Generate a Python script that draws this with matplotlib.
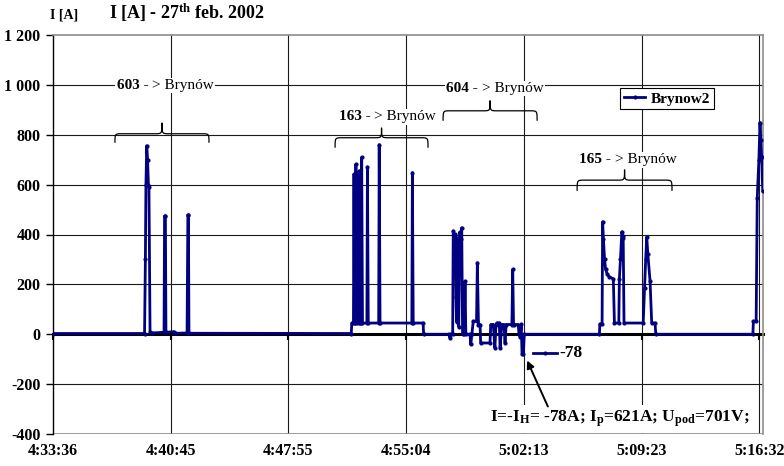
import matplotlib
matplotlib.use('Agg')
import matplotlib.pyplot as plt
from matplotlib.path import Path
from matplotlib.patches import PathPatch
from matplotlib.lines import Line2D

plt.rcParams['font.family'] = ['Liberation Serif', 'DejaVu Serif']
plt.rcParams['mathtext.fontset'] = 'custom'
plt.rcParams['mathtext.rm'] = 'Liberation Serif:bold'
plt.rcParams['mathtext.bf'] = 'Liberation Serif:bold'
plt.rcParams['mathtext.it'] = 'Liberation Serif:bold'

# ---------------- data ----------------
x_tick_seconds = [0, 429, 859, 1288, 1717, 2147, 2576]
x_tick_labels = ["4:33:36", "4:40:45", "4:47:55", "4:55:04", "5:02:13", "5:09:23", "5:16:32"]
y_ticks = [-400, -200, 0, 200, 400, 600, 800, 1000, 1200]
y_tick_labels = ["-400", "-200", "0", "200", "400", "600", "800", "1 000", "1 200"]

start_t = [0]
start_i = [3]
g603_t = [334, 337, 339, 342, 345, 348, 350, 354, 360, 405, 407, 410, 412, 440, 445, 489, 492, 494, 496]
g603_i = [3, 300, 600, 756, 700, 600, 590, 10, 5, 8, 474, 474, 8, 10, 4, 5, 478, 478, 4]
g163_t = [1088, 1090, 1096, 1098, 1100, 1103, 1105, 1108, 1115, 1117, 1119, 1124, 1126, 1129,
          1145, 1147, 1150, 1188, 1190, 1193, 1309, 1311, 1314, 1350, 1352]
g163_i = [3, 45, 45, 642, 45, 45, 682, 45, 45, 655, 45, 45, 709, 45,
          45, 671, 45, 45, 760, 45, 45, 648, 45, 45, 0]
g604_t = [1444, 1448, 1452, 1458, 1460, 1463, 1466, 1468, 1470, 1472, 1476, 1480, 1484, 1487, 1491,
          1494, 1500, 1503, 1506, 1521, 1524, 1528, 1533, 1545, 1548, 1552, 1558, 1560, 1594, 1597,
          1606, 1612, 1616, 1619, 1628, 1631, 1637, 1645, 1649, 1653, 1674, 1677, 1680, 1697, 1700,
          1704, 1708, 1711, 1716, 1719]
g604_i = [0, -15, 0, 0, 414, 380, 300, 401, 150, 50, 387, 30, 410, 380, 427,
          0, 0, 213, 0, 0, -41, 0, 52, 52, 287, 39, 39, -35, -35, 39,
          39, -55, 39, 45, 45, -55, 39, 39, -35, 39, 39, 260, 39, 39, 0,
          -10, 40, -78, -78, 0]
g165_t = [1993, 1995, 2003, 2005, 2008, 2012, 2016, 2022, 2030, 2044, 2048, 2064, 2066, 2070,
          2075, 2078, 2080, 2083, 2153, 2158, 2162, 2166, 2170, 2178, 2184, 2196, 2199]
g165_i = [0, 41, 41, 451, 380, 300, 260, 240, 230, 222, 45, 45, 221, 300,
          411, 395, 387, 45, 45, 186, 300, 390, 320, 213, 45, 45, 0]
end_t = [2553, 2555, 2565, 2569, 2575, 2579, 2582, 2585, 2589]
end_i = [0, 52, 52, 548, 700, 849, 780, 709, 575]

series_name = "Brynow2"
time_s = start_t + g603_t + g163_t + g604_t + g165_t + end_t
current_a = start_i + g603_i + g163_i + g604_i + g165_i + end_i

# ---------------- figure ----------------
W, H = 784, 466
fig = plt.figure(figsize=(W / 100, H / 100), dpi=100)
ax_l, ax_r, ax_t, ax_b = 53, 763, 35, 434
ax = fig.add_axes([ax_l / W, (H - ax_b) / H, (ax_r - ax_l) / W, (ax_b - ax_t) / H])
ax.set_xlim(0, 2590)
ax.set_ylim(-400, 1200)

grid_c = '#1a1a1a'
border_c = '#8c8c8c'
for yv in y_ticks:
    if yv not in (-400, 0, 1200):
        ax.axhline(yv, color=grid_c, lw=0.8, zorder=1)
for xv in x_tick_seconds[1:]:
    ax.axvline(xv, color=grid_c, lw=0.8, zorder=1)
ax.axhline(-400, color=border_c, lw=1.2, zorder=1)

ax.spines['top'].set_color(border_c)
ax.spines['right'].set_color(border_c)
ax.spines['top'].set_linewidth(1.2)
ax.spines['right'].set_linewidth(1.2)
ax.spines['left'].set_color('black')
ax.spines['left'].set_linewidth(1.0)
ax.spines['bottom'].set_position(('data', 0))
ax.spines['bottom'].set_color('black')
ax.spines['bottom'].set_linewidth(2.2)
ax.spines['bottom'].set_zorder(2)

ax.set_xticks(x_tick_seconds, x_tick_labels)
ax.set_yticks(y_ticks, y_tick_labels)
ax.tick_params(axis='x', direction='out', length=4, width=1.5, pad=74, labelsize=11.5)
ax.tick_params(axis='y', direction='out', length=5, width=1.0, pad=4, labelsize=11.5)
for lbl in ax.get_xticklabels() + ax.get_yticklabels():
    lbl.set_fontweight('bold')

line, = ax.plot(time_s, current_a, color='#000080', lw=2.0, marker='o', ms=2.0,
                mfc='#000080', mec='#000080', zorder=4, label=series_name)

leg_handle = Line2D([], [], color='#000080', lw=2.0, marker='o', ms=2.0)
leg = ax.legend([leg_handle], [series_name], loc='upper left',
                bbox_to_anchor=((620 - ax_l) / (ax_r - ax_l), (ax_b - 88) / (ax_b - ax_t)),
                borderaxespad=0, frameon=True, fancybox=False, edgecolor='black', framealpha=1,
                prop={'weight': 'bold', 'size': 11}, handlelength=1.4, borderpad=0.25,
                handletextpad=0.35)
leg.get_frame().set_linewidth(0.8)
leg.set_zorder(6)

# ---------------- braces and their labels ----------------
px_t = 2590 / (ax_r - ax_l)


def brace(x0, x1, y_end, y_mid, y_tip):
    xc = (x0 + x1) / 2
    r = 7 * px_t
    verts = [(x0, y_end), (x0, y_mid), (x0, y_mid), (x0 + r, y_mid),
             (xc - r, y_mid), (xc, y_mid), (xc, y_mid), (xc, y_tip),
             (xc, y_mid), (xc, y_mid), (xc + r, y_mid),
             (x1 - r, y_mid), (x1, y_mid), (x1, y_mid), (x1, y_end)]
    codes = [Path.MOVETO, Path.CURVE4, Path.CURVE4, Path.CURVE4,
             Path.LINETO, Path.CURVE4, Path.CURVE4, Path.CURVE4,
             Path.CURVE4, Path.CURVE4, Path.CURVE4,
             Path.LINETO, Path.CURVE4, Path.CURVE4, Path.CURVE4]
    ax.add_patch(PathPatch(Path(verts, codes), fill=False, lw=0.9, color='black', zorder=5))


def group_label(num, xc, y):
    anchor = xc - 13 * px_t
    bb = dict(facecolor='white', edgecolor='none', pad=1)
    ax.text(anchor, y, num + " - ", ha='right', va='center', fontsize=11, fontweight='bold',
            bbox=bb, zorder=5)
    ax.text(anchor, y, "> Brynów", ha='left', va='center', fontsize=11, bbox=bb, zorder=5)


brace(226, 569, 768, 804, 848)
group_label("603", 409, 997)
brace(1029, 1368, 748, 788, 828)
group_label("163", 1220, 872)
brace(1423, 1766, 856, 896, 937)
group_label("604", 1612, 985)
brace(1912, 2258, 575, 618, 660)
group_label("165", 2098, 700)

# ---------------- other annotations ----------------
def afx(px):
    return (px - ax_l) / (ax_r - ax_l)


def afy(py):
    return (ax_b - py) / (ax_b - ax_t)


ax.add_line(Line2D([afx(533), afx(557)], [afy(353), afy(353)], transform=ax.transAxes,
                   color='#000080', lw=2.0, zorder=5))
ax.add_line(Line2D([afx(545)], [afy(353)], transform=ax.transAxes, color='#000080',
                   marker='o', ms=2.0, zorder=5))
ax.text(afx(559), afy(353), "-78", transform=ax.transAxes, ha='left', va='center',
        fontsize=12.5, fontweight='bold', zorder=5)

ax.annotate("", xy=(afx(526), afy(358)), xytext=(afx(549), afy(409)),
            xycoords='axes fraction', textcoords='axes fraction',
            arrowprops=dict(arrowstyle='-|>', color='black', lw=1.4, mutation_scale=11),
            zorder=6)
ax.text(afx(620), afy(419), r"I=-I$_{\mathbf{H}}$= -78A; I$_{\mathbf{p}}$=621A; U$_{\mathbf{pod}}$=701V;",
        transform=ax.transAxes, ha='center', va='center', fontsize=12.5, fontweight='bold',
        bbox=dict(facecolor='white', edgecolor='none', pad=3), zorder=5, clip_on=False)

# ---------------- titles ----------------
fig.text(50 / W, 1 - 15 / H, "I [A]", ha='left', va='center', fontsize=10, fontweight='bold')
fig.text(109 / W, 1 - 13 / H, r"I [A] - 27$^{\mathbf{th}}$ feb. 2002", ha='left', va='center',
         fontsize=13, fontweight='bold')

fig.savefig('out.png', dpi=100)
